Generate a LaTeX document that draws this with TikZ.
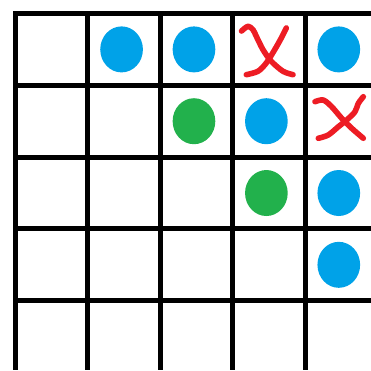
\documentclass[tikz,border=0pt]{standalone}
\usetikzlibrary{shapes.geometric}
\definecolor{dotblue}{RGB}{0,162,232}
\definecolor{dotgreen}{RGB}{34,177,76}
\definecolor{crossred}{RGB}{237,28,36}
\tikzset{
  gridline/.style={line width=3.8pt},
  bluedot/.style={ellipse,fill=dotblue,inner sep=0pt,minimum width=32pt,minimum height=34.5pt},
  greendot/.style={ellipse,fill=dotgreen,inner sep=0pt,minimum width=32pt,minimum height=34.5pt},
  crossline/.style={crossred,line width=4.2pt,line cap=round,line join=round}
}
\begin{document}
\begin{tikzpicture}
    [x=54.3pt,y=53.85pt]
    \useasboundingbox (-0.214,0.188) rectangle (4.910,-4.965);
    %grid
    \draw[gridline](4.910,0)--(0,0)--(0,-4.965);
    \draw[gridline](1,0)--(1,-4.965);
    \draw[gridline](2,0)--(2,-4.965);
    \draw[gridline](3,0)--(3,-4.965);
    \draw[gridline](4,0)--(4,-4.965);
    \draw[gridline](0,-1)--(4.910,-1);
    \draw[gridline](0,-2)--(4.910,-2);
    \draw[gridline](0,-3)--(4.910,-3);
    \draw[gridline](0,-4)--(4.910,-4);
    %blue dots
    \node[bluedot] (b1) at (1.465,-0.5) {};
    \node[bluedot] (b2) at (2.465,-0.5) {};
    \node[bluedot] (b3) at (4.465,-0.5) {};
    \node[bluedot] (b4) at (3.465,-1.5) {};
    \node[bluedot] (b5) at (4.465,-2.5) {};
    \node[bluedot] (b6) at (4.465,-3.5) {};
    %green dots
    \node[greendot] (g1) at (2.465,-1.5) {};
    \node[greendot] (g2) at (3.465,-2.5) {};
    %crosses
    \draw[crossline] plot[smooth] coordinates {(3.122,-0.244) (3.211,-0.178) (3.28,-0.226) (3.326,-0.318) (3.418,-0.504) (3.533,-0.666) (3.695,-0.805) (3.833,-0.852)};
    \draw[crossline] plot[smooth] coordinates {(3.740,-0.202) (3.671,-0.341) (3.580,-0.504) (3.464,-0.689) (3.349,-0.805) (3.188,-0.852)};
    \draw[crossline] plot[smooth] coordinates {(4.137,-1.228) (4.251,-1.205) (4.367,-1.298) (4.506,-1.460) (4.644,-1.599) (4.804,-1.738)};
    \draw[crossline] plot[smooth] coordinates {(4.804,-1.159) (4.735,-1.251) (4.689,-1.368) (4.575,-1.483) (4.459,-1.577) (4.320,-1.692) (4.182,-1.738)};
\end{tikzpicture}
\end{document}
